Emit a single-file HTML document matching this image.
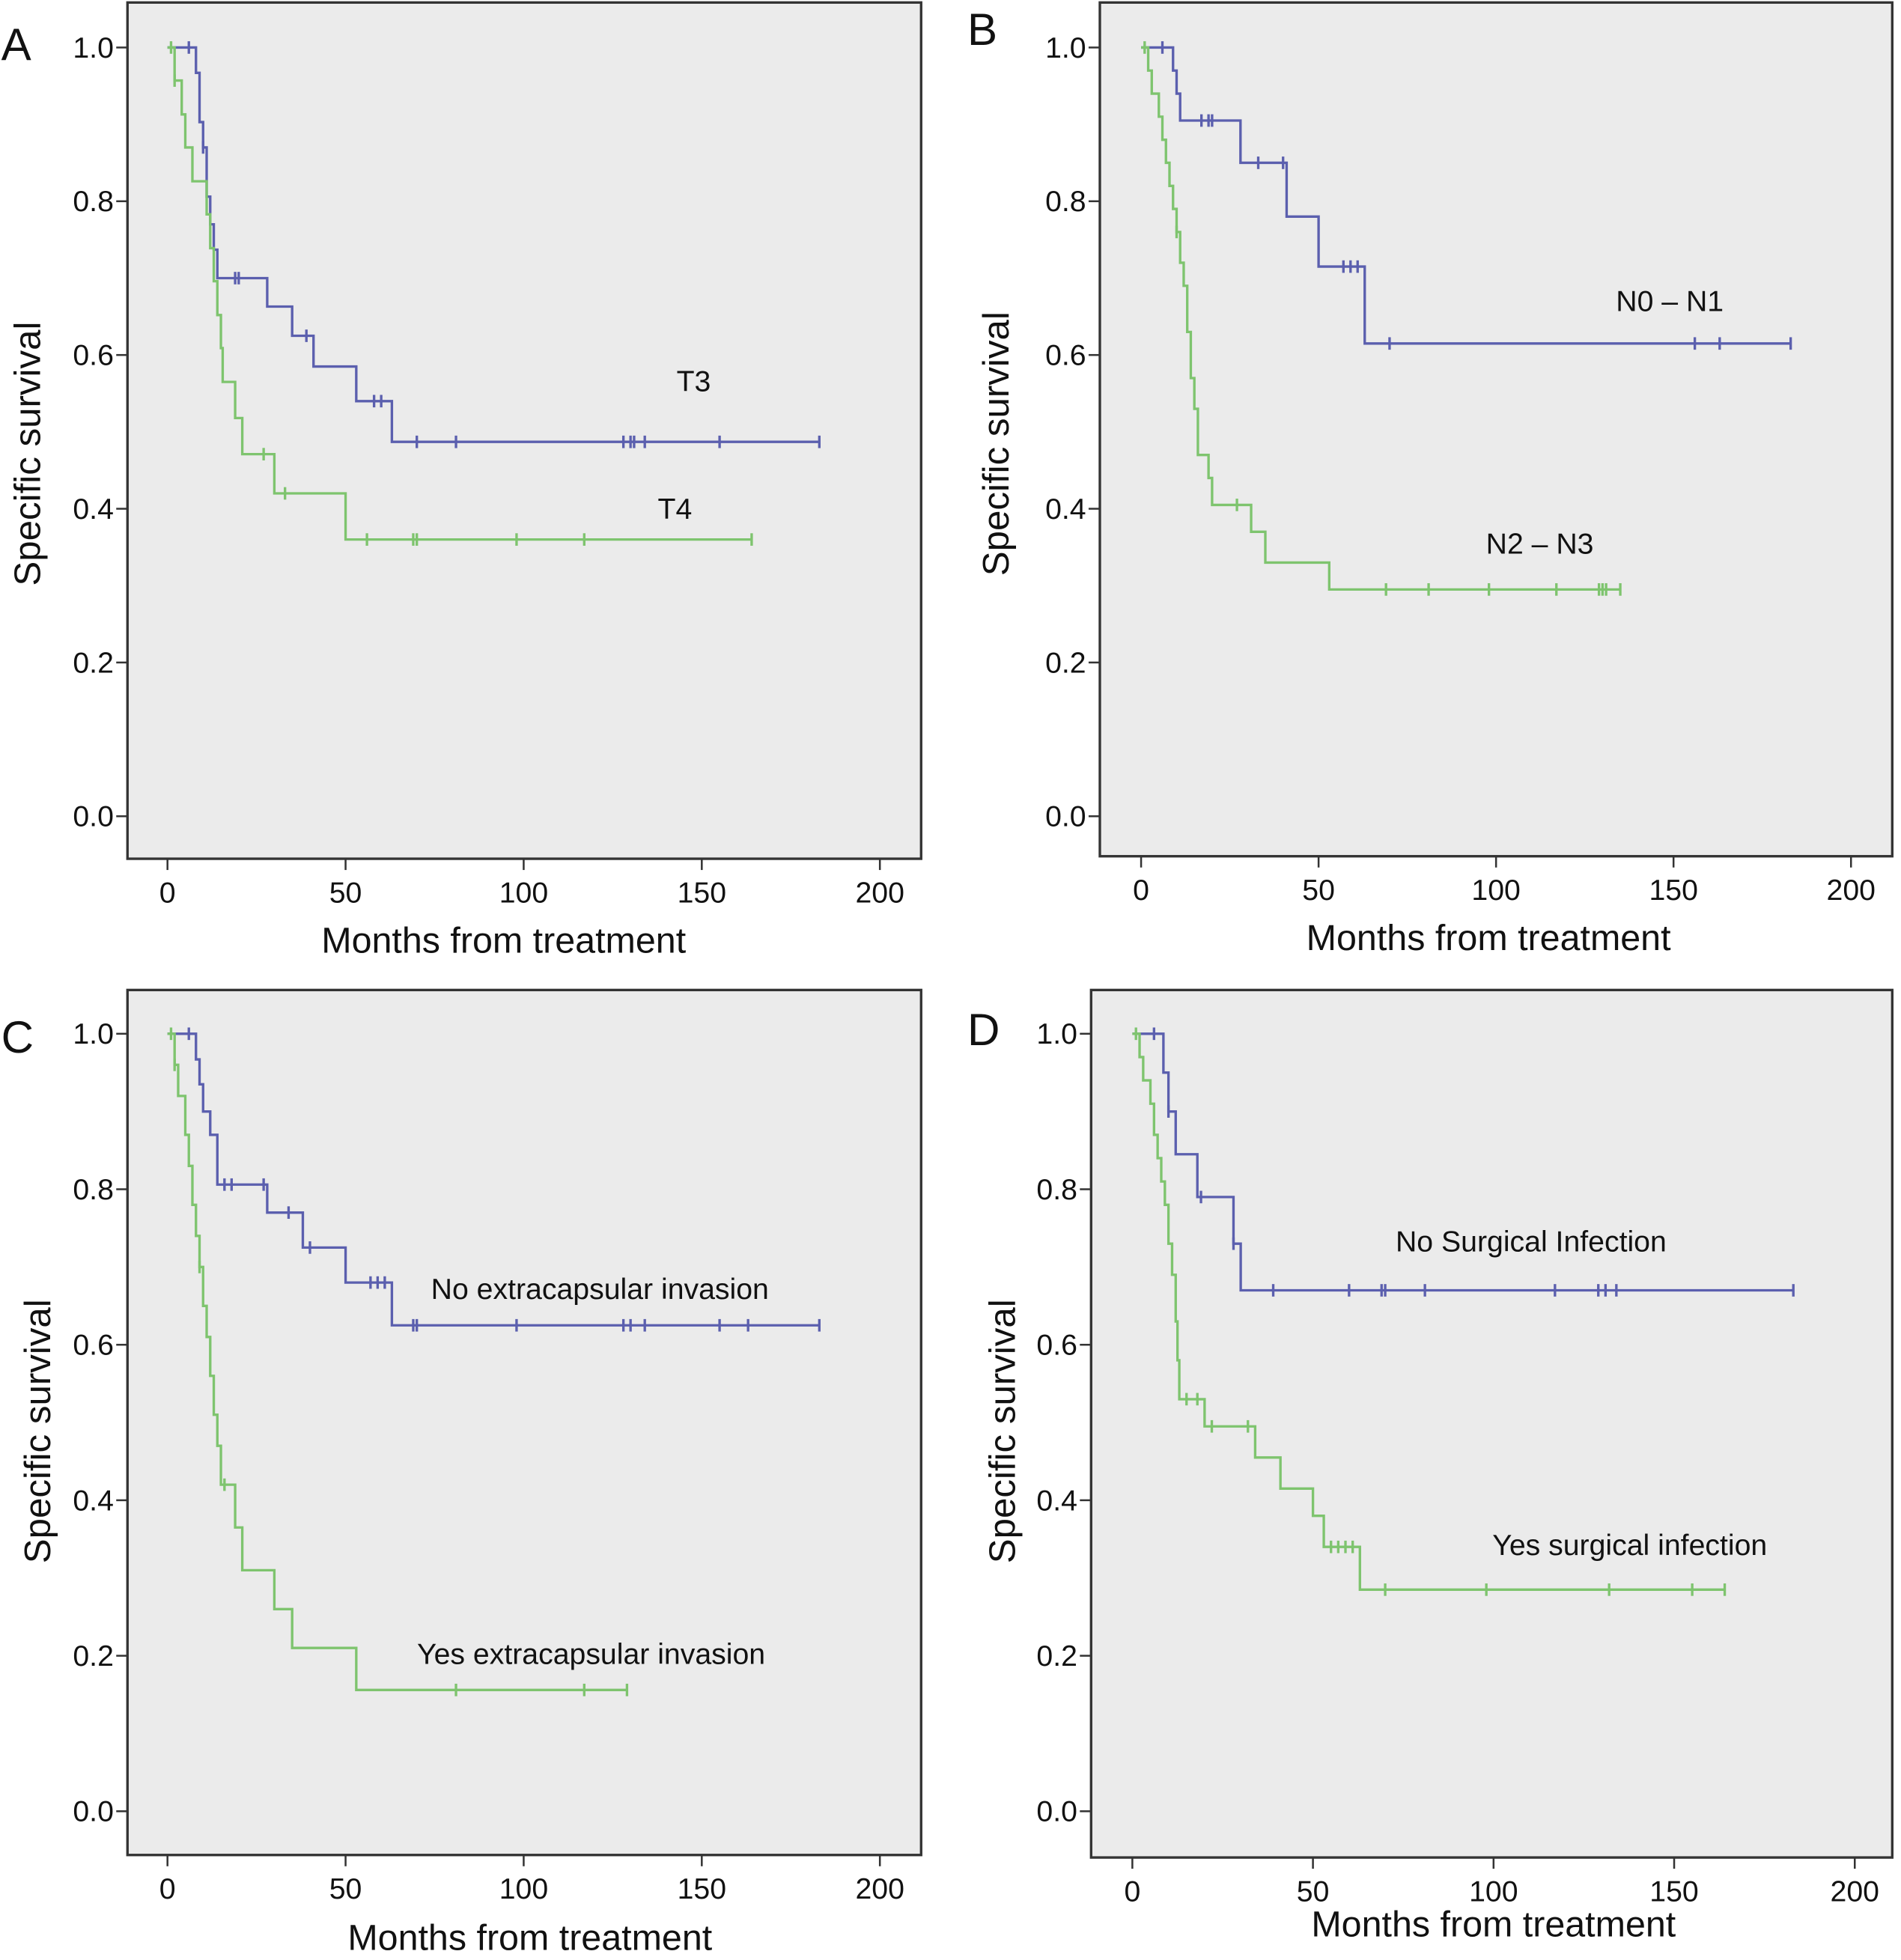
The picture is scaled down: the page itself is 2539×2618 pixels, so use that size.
<!DOCTYPE html>
<html><head><meta charset="utf-8"><style>
html,body{margin:0;padding:0;background:#fff;}
svg{display:block;font-family:"Liberation Sans",sans-serif;}
</style></head><body>
<svg id="fig" width="2539" height="2618" viewBox="0 0 1521 1568" preserveAspectRatio="none" xmlns="http://www.w3.org/2000/svg"></svg>
<script>
// Panel A
const aT3Times=[0,8,9,10,11,12,13,14,28,35,41,53,63,183];
const aT3Surv=[1.0,0.967,0.903,0.87,0.806,0.77,0.737,0.70,0.663,0.625,0.585,0.54,0.487,0.487];
const aT3Censor=[6,10,19,20,39,58,60,70,81,128,130,131,134,155,183];
const aT4Times=[0,2,4,5,7,11,12,13,14,15,15.5,19,21,30,50,164];
const aT4Surv=[1.0,0.957,0.913,0.87,0.826,0.783,0.739,0.696,0.652,0.609,0.565,0.518,0.471,0.42,0.36,0.36];
const aT4Censor=[1,2,27,33,56,69,70,98,117,164];
// Panel B
const bN01Times=[0,9,10,11,28,41,50,63,183];
const bN01Surv=[1.0,0.97,0.94,0.905,0.85,0.78,0.715,0.615,0.615];
const bN01Censor=[6,17,19,20,33,40,57,59,61,70,156,163,183];
const bN23Times=[0,2,3,5,6,7,8,9,10,11,12,13,14,15,16,19,20,31,35,53,135];
const bN23Surv=[1.0,0.97,0.94,0.91,0.88,0.85,0.82,0.79,0.76,0.72,0.69,0.63,0.57,0.53,0.47,0.44,0.405,0.37,0.33,0.295,0.295];
const bN23Censor=[1,10,27,69,81,98,117,129,130,131,135];
// Panel C
const cNoTimes=[0,8,9,10,12,14,28,38,50,63,183];
const cNoSurv=[1.0,0.967,0.935,0.90,0.87,0.806,0.77,0.725,0.68,0.625,0.625];
const cNoCensor=[6,16,18,27,34,40,57,59,61,69,70,98,128,130,134,155,163,183];
const cYesTimes=[0,2,3,5,6,7,8,9,10,11,12,13,14,15,19,21,30,35,53,129];
const cYesSurv=[1.0,0.96,0.92,0.87,0.83,0.78,0.74,0.70,0.65,0.61,0.56,0.51,0.47,0.42,0.365,0.31,0.26,0.21,0.156,0.156];
const cYesCensor=[1,2,9,16,81,117,129];
// Panel D
const dNoTimes=[0,8.6,10,12,18,28,30,183];
const dNoSurv=[1.0,0.95,0.9,0.845,0.79,0.73,0.67,0.67];
const dNoCensor=[6,10,19,28,39,60,69,70,81,117,129,131,134,183];
const dYesTimes=[0,2,3,5,6,7,8,9,10,11,12,12.5,13,20,34,41,50,53,63,164];
const dYesSurv=[1.0,0.97,0.94,0.91,0.87,0.84,0.81,0.78,0.73,0.69,0.63,0.58,0.53,0.495,0.455,0.415,0.38,0.34,0.285,0.285];
const dYesCensor=[1,15,18,22,32,55,57,59,61,70,98,132,155,164];

const yTicks=[0,0.2,0.4,0.6,0.8,1.0];
const yTickLabels=["0.0","0.2","0.4","0.6","0.8","1.0"];
const xTicks=[0,50,100,150,200];
const xTickLabels=["0","50","100","150","200"];

const NS="http://www.w3.org/2000/svg";
const svg=document.getElementById('fig');
const BLUE="#5b5fae", GREEN="#7ec46e";
function mk(tag,attrs,parent){const e=document.createElementNS(NS,tag);for(const k in attrs)e.setAttribute(k,attrs[k]);(parent||svg).appendChild(e);return e;}

const panels=[
 {id:'a',letter:'A',L:102,T:2,R:737,B:687,x0:134,x200:704,y1:38,y0:653,lx:1,ly:48,ytx:22,ytc:363,xtc:403,xtY:753,
  series:[[aT3Times,aT3Surv,aT3Censor,BLUE,'t3'],[aT4Times,aT4Surv,aT4Censor,GREEN,'t4']],
  labels:[['T3',555,313,'t3-label'],['T4',540,415,'t4-label']]},
 {id:'b',letter:'B',L:880,T:2,R:1514,B:685,x0:913,x200:1481,y1:38,y0:653,lx:774,ly:36,ytx:797,ytc:355,xtc:1191,xtY:751,
  series:[[bN01Times,bN01Surv,bN01Censor,BLUE,'n0-n1'],[bN23Times,bN23Surv,bN23Censor,GREEN,'n2-n3']],
  labels:[['N0 – N1',1336,249,'n0-n1-label'],['N2 – N3',1232,443,'n2-n3-label']]},
 {id:'c',letter:'C',L:102,T:792,R:737,B:1484,x0:134,x200:704,y1:827,y0:1449,lx:1,ly:842,ytx:30,ytc:1145,xtc:424,xtY:1551,
  series:[[cNoTimes,cNoSurv,cNoCensor,BLUE,'no-extracapsular'],[cYesTimes,cYesSurv,cYesCensor,GREEN,'yes-extracapsular']],
  labels:[['No extracapsular invasion',480,1039,'no-extracapsular-label'],['Yes extracapsular invasion',473,1331,'yes-extracapsular-label']]},
 {id:'d',letter:'D',L:873,T:792,R:1514,B:1486,x0:906,x200:1484,y1:827,y0:1449,lx:774,ly:836,ytx:802,ytc:1145,xtc:1195,xtY:1540,
  series:[[dNoTimes,dNoSurv,dNoCensor,BLUE,'no-infection'],[dYesTimes,dYesSurv,dYesCensor,GREEN,'yes-infection']],
  labels:[['No Surgical Infection',1225,1001,'no-infection-label'],['Yes surgical infection',1304,1244,'yes-infection-label']]}
];

panels.forEach(p=>{
 const g=mk('g',{});
 
 
 const X=t=>p.x0+(p.x200-p.x0)*t/200;
 const Y=s=>p.y0+(p.y1-p.y0)*s;
 const bg=mk('rect',{x:p.L,y:p.T,width:p.R-p.L,height:p.B-p.T,fill:'#ebebeb',stroke:'#333',"stroke-width":2},g);
 
 
 const letter=mk('text',{x:p.lx,y:p.ly,"font-size":36,fill:'#111'},g);
 letter.textContent=p.letter;
 
 
 yTicks.forEach((v,i)=>{
  mk('line',{x1:p.L-9,x2:p.L,y1:Y(v),y2:Y(v),stroke:'#333',"stroke-width":1.5},g);
  const t=mk('text',{x:p.L-11,y:Y(v)+8,"font-size":23.5,"text-anchor":'end',fill:'#111'},g);
  t.textContent=yTickLabels[i];
  
  
 });
 xTicks.forEach((v,i)=>{
  mk('line',{x1:X(v),x2:X(v),y1:p.B,y2:p.B+9,stroke:'#333',"stroke-width":1.5},g);
  const t=mk('text',{x:X(v),y:p.B+35,"font-size":23.5,"text-anchor":'middle',fill:'#111'},g);
  t.textContent=xTickLabels[i];
  
  
 });
 const yt=mk('text',{x:0,y:0,"font-size":29.5,"text-anchor":'middle',fill:'#111',transform:`translate(${p.ytx+10},${p.ytc}) rotate(-90)`},g);
 yt.textContent='Specific survival';
 
 
 const xt=mk('text',{x:p.xtc,y:p.xtY+9,"font-size":29,"text-anchor":'middle',fill:'#111'},g);
 xt.textContent='Months from treatment';
 
 
 p.series.forEach(([times,surv,cens,col,nm])=>{
  let d=`M${X(times[0])},${Y(surv[0])}`;
  for(let i=1;i<times.length;i++){d+=` H${X(times[i])} V${Y(surv[i])}`;}
  const path=mk('path',{d:d,fill:'none',stroke:col,"stroke-width":2},g);
  
  
  cens.forEach(c=>{
   let s=surv[0];
   for(let i=0;i<times.length;i++){if(times[i]<=c)s=surv[i];}
   const m=mk('line',{x1:X(c),x2:X(c),y1:Y(s)-5,y2:Y(s)+5,stroke:col,"stroke-width":2},g);
   
   
  });
 });
 p.labels.forEach(([txt,x,y,nm])=>{
  const t=mk('text',{x:x,y:y,"font-size":23.5,"text-anchor":'middle',fill:'#111'},g);
  t.textContent=txt;
  
  
 });
});
</script>
</body></html>
